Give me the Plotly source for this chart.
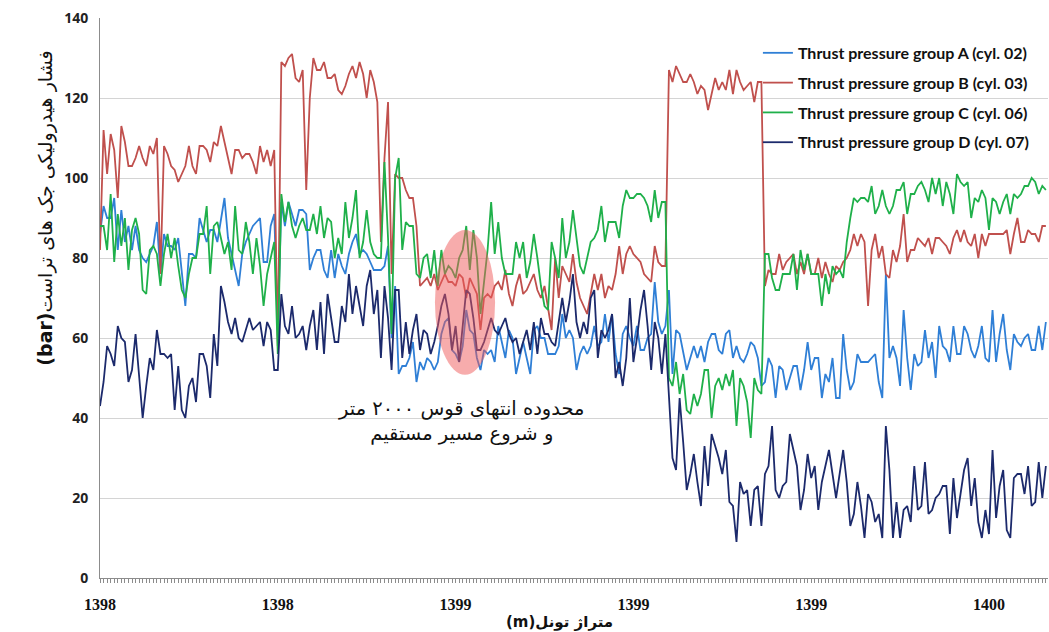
import plotly.graph_objects as go

# ---------------- data ----------------
series_names = [
    "Thrust pressure group A (cyl. 02)",
    "Thrust pressure group B (cyl. 03)",
    "Thrust pressure group C (cyl. 06)",
    "Thrust pressure group D (cyl. 07)",
]

group_a = [
    86, 93, 90, 90, 95, 82, 92, 84, 88, 82,
    88, 82, 80, 79, 81, 83, 89, 76, 86, 83,
    83, 82, 85, 76, 68, 81, 81, 80, 90, 87,
    84, 87, 87, 84, 89, 95, 85, 81, 77, 73,
    81, 84, 86, 88, 89, 90, 79, 79, 88, 91,
    62, 94, 88, 94, 91, 88, 92, 92, 91, 77,
    80, 82, 82, 77, 75, 82, 75, 81, 78, 76,
    81, 84, 86, 81, 82, 81, 79, 77, 77, 77,
    78, 83, 60, 73, 51, 53, 53, 55, 59, 49,
    54, 52, 55, 54, 52, 54, 61, 64, 65, 57,
    56, 54, 58, 67, 62, 61, 55, 52, 57, 56,
    57, 54, 63, 59, 55, 62, 60, 51, 55, 59,
    55, 51, 62, 63, 60, 60, 56, 56, 56, 58,
    66, 60, 62, 60, 52, 56, 58, 56, 58, 63,
    58, 59, 66, 59, 66, 56, 51, 61, 63, 60,
    58, 63, 57, 57, 60, 61, 74, 64, 61, 63,
    72, 51, 62, 61, 56, 52, 55, 58, 55, 58,
    54, 59, 61, 61, 57, 56, 61, 62, 55, 58,
    55, 54, 56, 59, 58, 55, 48, 49, 55, 53,
    45, 53, 52, 47, 50, 53, 53, 47, 52, 59,
    52, 55, 55, 45, 51, 49, 55, 45, 45, 61,
    52, 47, 49, 56, 54, 54, 54, 55, 56, 49,
    45, 76, 55, 58, 55, 48, 67, 55, 47, 56,
    53, 54, 62, 55, 59, 50, 63, 58, 57, 54,
    63, 56, 56, 63, 61, 57, 55, 58, 63, 55,
    54, 67, 54, 61, 66, 57, 52, 61, 59, 58,
    60, 61, 57, 57, 63, 57, 64,
]

group_b = [
    82, 112, 101, 111, 107, 95, 113, 109, 103, 103,
    105, 108, 105, 103, 108, 106, 110, 76, 108, 106,
    103, 102, 99, 101, 103, 108, 103, 101, 108, 108,
    107, 104, 109, 108, 113, 109, 105, 101, 107, 107,
    105, 106, 106, 104, 101, 108, 104, 107, 103, 107,
    58, 129, 128, 130, 131, 125, 124, 127, 97, 120,
    130, 127, 127, 129, 125, 125, 126, 122, 121, 123,
    126, 128, 125, 129, 126, 120, 127, 124, 119, 84,
    105, 119, 76, 101, 100, 100, 97, 95, 95, 88,
    73, 74, 75, 73, 76, 72, 74, 76, 74, 74,
    73, 76, 75, 70, 75, 73, 71, 62, 70, 71,
    70, 73, 74, 72, 77, 71, 68, 73, 76, 71,
    72, 74, 76, 72, 70, 73, 67, 62, 80, 70,
    78, 76, 74, 81, 74, 70, 68, 66, 71, 76,
    72, 76, 70, 73, 72, 76, 83, 76, 81, 83,
    81, 80, 79, 76, 75, 74, 83, 79, 78, 78,
    127, 124, 128, 126, 124, 124, 126, 124, 121, 123,
    122, 117, 121, 125, 122, 124, 122, 127, 121, 127,
    124, 122, 123, 124, 119, 124, 124, 73, 77, 76,
    76, 81, 77, 79, 80, 81, 76, 79, 76, 81,
    76, 76, 80, 75, 79, 76, 74, 78, 77, 79,
    80, 82, 86, 83, 86, 84, 68, 82, 86, 80,
    83, 76, 75, 82, 79, 83, 91, 79, 82, 82,
    85, 84, 83, 85, 81, 85, 85, 84, 83, 81,
    85, 87, 84, 87, 84, 83, 86, 80, 86, 83,
    86, 86, 86, 86, 86, 87, 81, 86, 90, 84,
    84, 87, 86, 86, 84, 88, 88,
]

group_c = [
    88, 88, 82, 96, 79, 91, 83, 90, 77, 87,
    90, 86, 72, 71, 82, 83, 81, 73, 81, 86,
    80, 85, 78, 72, 70, 76, 80, 80, 86, 86,
    93, 76, 88, 89, 85, 81, 84, 77, 93, 82,
    81, 89, 84, 76, 85, 78, 68, 76, 80, 84,
    56, 96, 89, 94, 88, 85, 88, 90, 87, 87,
    91, 86, 93, 85, 90, 89, 80, 85, 81, 94,
    85, 90, 97, 80, 84, 92, 84, 81, 80, 80,
    104, 85, 61, 100, 105, 82, 89, 88, 88, 76,
    75, 80, 81, 75, 82, 73, 82, 76, 78, 77,
    75, 80, 82, 88, 77, 87, 80, 66, 74, 82,
    94, 81, 89, 80, 76, 76, 76, 84, 80, 84,
    75, 79, 86, 80, 73, 68, 67, 84, 80, 75,
    90, 80, 84, 92, 85, 78, 76, 80, 84, 85,
    87, 93, 84, 89, 89, 89, 85, 93, 97, 95,
    95, 96, 96, 95, 93, 89, 97, 90, 94, 94,
    50, 48, 54, 46, 51, 42, 41, 46, 43, 46,
    52, 52, 40, 48, 50, 47, 51, 48, 52, 38,
    50, 48, 44, 35, 50, 47, 46, 81, 81, 75,
    72, 72, 76, 76, 76, 81, 72, 82, 77, 81,
    76, 76, 76, 68, 76, 71, 78, 76, 77, 75,
    84, 90, 95, 94, 95, 95, 94, 98, 91, 93,
    97, 93, 91, 93, 97, 97, 99, 91, 96, 96,
    98, 99, 97, 94, 100, 96, 100, 93, 99, 96,
    91, 101, 99, 98, 99, 90, 95, 94, 97, 95,
    87, 95, 94, 91, 94, 96, 91, 96, 95, 96,
    98, 98, 100, 99, 96, 98, 97,
]

group_d = [
    43, 49, 58, 56, 53, 63, 60, 59, 49, 52,
    61, 51, 40, 48, 55, 52, 62, 56, 56, 55,
    56, 42, 53, 42, 40, 48, 50, 44, 56, 56,
    53, 45, 61, 53, 73, 69, 64, 61, 65, 60,
    59, 62, 65, 62, 63, 64, 58, 64, 62, 52,
    52, 71, 63, 61, 68, 60, 61, 63, 57, 63,
    67, 57, 69, 56, 71, 65, 59, 59, 68, 64,
    76, 66, 73, 68, 63, 73, 77, 66, 72, 55,
    73, 65, 52, 72, 72, 55, 64, 56, 62, 66,
    57, 62, 61, 56, 59, 63, 68, 71, 66, 57,
    63, 54, 63, 72, 71, 65, 57, 57, 59, 62,
    65, 62, 61, 63, 65, 61, 59, 60, 56, 59,
    62, 57, 64, 56, 65, 61, 61, 59, 58, 64,
    70, 64, 69, 76, 64, 60, 64, 61, 70, 72,
    55, 62, 60, 62, 66, 50, 54, 48, 55, 70,
    54, 60, 67, 72, 63, 52, 64, 60, 51, 61,
    47, 30, 27, 45, 34, 22, 26, 31, 24, 18,
    33, 23, 36, 33, 30, 26, 32, 19, 18, 9,
    24, 21, 22, 13, 22, 23, 13, 26, 28, 38,
    22, 20, 23, 24, 36, 32, 28, 17, 22, 31,
    25, 28, 17, 24, 28, 32, 26, 20, 26, 32,
    24, 13, 16, 24, 18, 10, 21, 19, 14, 16,
    10, 38, 27, 10, 19, 10, 17, 18, 14, 28,
    17, 18, 29, 16, 17, 20, 21, 23, 23, 11,
    25, 15, 21, 27, 30, 18, 25, 14, 10, 17,
    11, 32, 15, 23, 27, 12, 10, 25, 26, 26,
    21, 28, 18, 19, 29, 20, 28,
]

# category positions (one per chainage reading) and the axis labels
categories = list(range(len(group_a)))
tick_positions = [0, 50, 100, 150, 200, 250]
tick_labels = ["1398", "1398", "1399", "1399", "1399", "1400"]

colors = ["#2f7fd6", "#c0504d", "#1fb04a", "#1c2a6c"]

fig = go.Figure()
for i, (name, vals) in enumerate(zip(series_names, [group_a, group_b, group_c, group_d])):
    fig.add_trace(go.Scatter(
        x=categories, y=vals, mode="lines", name=name,
        line=dict(color=colors[i], width=1.8),
        legendgroup=f"g{i}",
    ))

# highlighted region (ellipse)
fig.add_shape(type="circle", xref="x", yref="y",
              x0=94.2, x1=111.1, y0=50.8, y1=87.0,
              fillcolor="rgba(240,90,90,0.5)", line=dict(width=0), layer="above")

fig.add_annotation(x=101.8, y=39.3, xref="x", yref="y",
                   text="محدوده انتهای قوس ۲۰۰۰ متر<br>و شروع مسیر مستقیم",
                   showarrow=False, font=dict(family="DejaVu Sans", size=19.5, color="#111"))

# axis titles as annotations
fig.add_annotation(xref="paper", yref="paper", x=-0.072, y=0.66,
                   text="<b>(bar)</b>فشار هیدرولیکی جک های تراست", textangle=-90,
                   showarrow=False, font=dict(family="DejaVu Sans", size=19, color="#111"))
fig.add_annotation(xref="paper", yref="paper", x=0.485, y=-0.079, yanchor="middle",
                   text="(m)متراژ تونل", showarrow=False,
                   font=dict(family="DejaVu Sans", size=15, color="#111", weight="bold"))

fig.update_layout(
    width=1049, height=632,
    margin=dict(l=100, r=1, t=18, b=54),
    paper_bgcolor="white", plot_bgcolor="white",
    showlegend=True,
    legend=dict(x=0.694, xanchor="left", y=0.968, yanchor="top",
                font=dict(family="Lato", size=16, color="#111", weight="bold"),
                bgcolor="rgba(0,0,0,0)", tracegroupgap=6, itemwidth=30),
    xaxis=dict(range=[0, 266.6], tickmode="array", tickvals=tick_positions, ticktext=tick_labels,
               showgrid=False, zeroline=False, showline=True, linecolor="#8c8c8c", linewidth=1,
               ticks="outside", ticklen=4, tickcolor="#8c8c8c",
               minor=dict(ticks="outside", dtick=1, tick0=0, ticklen=4, tickcolor="#8c8c8c"),
               tickfont=dict(family="Liberation Serif", size=16, color="#111", weight="bold"),
               ticklabelstandoff=8),
    yaxis=dict(range=[0, 140], dtick=20, showgrid=True, gridcolor="#d4d4d4", gridwidth=1,
               zeroline=False, showline=True, linecolor="#8c8c8c", linewidth=1,
               tickfont=dict(family="Open Sans", size=14, color="#222", weight="bold"),
               ticks="", ticklabelstandoff=8),
)

fig.write_html("out.html", config={"displayModeBar": False},
               post_script="document.body.style.margin='0';document.body.style.overflow='hidden';")
